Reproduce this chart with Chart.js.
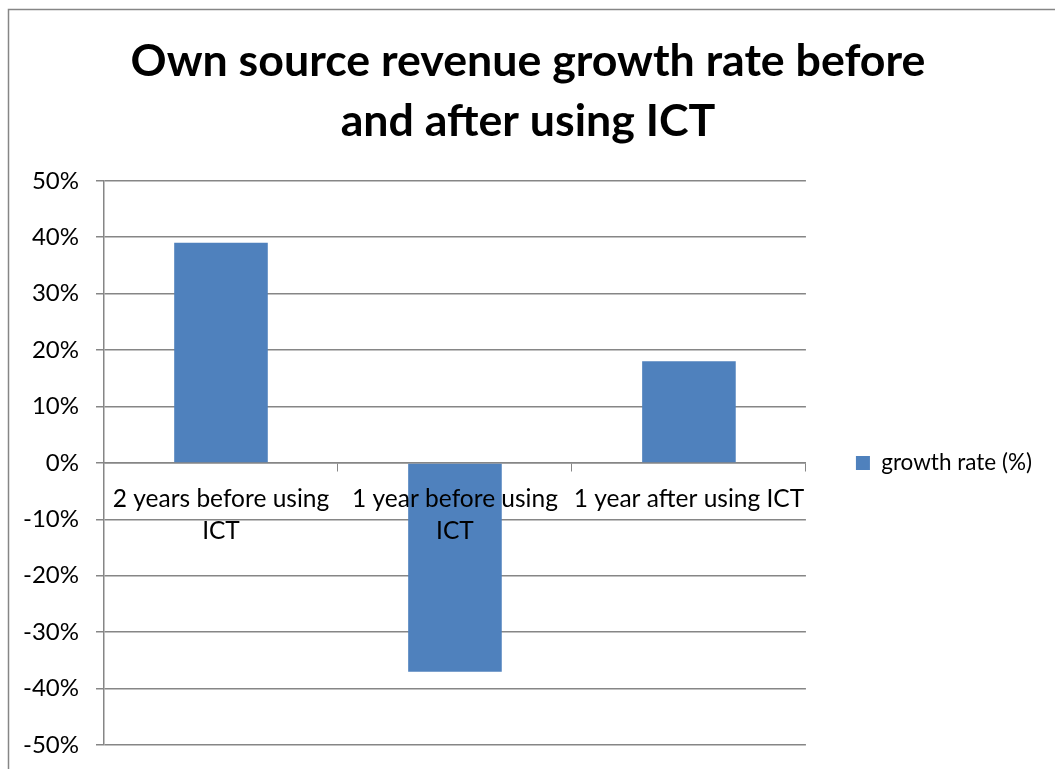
<!DOCTYPE html>
<html>
<head>
<meta charset="utf-8">
<script src="https://cdn.jsdelivr.net/npm/chart.js@4.4.0/dist/chart.umd.min.js"></script>
<style>
    html, body { margin: 0; padding: 0; background: #fff; }
    #wrap { position: relative; width: 1055px; height: 769px; }
</style>
</head>
<body>
<div id="wrap"><canvas id="growthChart" width="1055" height="769"></canvas></div>
<script>
// Category labels (wrapped like the axis shows them)
const categories = [
    ['2 years before using', 'ICT'],
    ['1 year before using', 'ICT'],
    '1 year after using ICT'
];
// Growth rate per period, in percent
const growthRate = [39, -37, 18];
const seriesName = 'growth rate (%)';

const yMin = -50;
const yMax = 50;
const yStep = 10;

const gridColor = '#868686';
const barColor = '#4F81BD';
const fontFamily = 'Lato, "Open Sans", sans-serif';

// Outer chart frame (only top and left edges fall inside the canvas)
const framePlugin = {
    id: 'frame',
    beforeDraw(chart) {
        const ctx = chart.ctx;
        ctx.save();
        ctx.strokeStyle = gridColor;
        ctx.lineWidth = 1.5;
        ctx.strokeRect(8.5, 9.5, 1100, 800);
        ctx.restore();
    }
};

Chart.defaults.font.family = fontFamily;
Chart.defaults.color = '#000';

new Chart(document.getElementById('growthChart'), {
    type: 'bar',
    data: {
        labels: categories,
        datasets: [{
            label: seriesName,
            data: growthRate,
            backgroundColor: barColor,
            borderWidth: 0,
            categoryPercentage: 1,
            barPercentage: 0.4
        }]
    },
    options: {
        responsive: false,
        animation: false,
        layout: {
            padding: { left: 14, right: 13, top: 0, bottom: 24 }
        },
        plugins: {
            title: {
                display: true,
                text: ['Own source revenue growth rate before', 'and after using ICT'],
                font: { size: 44.7, weight: 'bold', lineHeight: 1.34 },
                color: '#000',
                padding: { top: 32, bottom: 29 }
            },
            legend: {
                position: 'right',
                fullSize: false,
                labels: {
                    boxWidth: 14,
                    boxHeight: 14,
                    padding: 50,
                    font: { size: 22.5 },
                    color: '#000'
                }
            },
            tooltip: { enabled: false }
        },
        scales: {
            x: {
                position: { y: 0 },
                grid: {
                    display: true,
                    drawOnChartArea: false,
                    drawTicks: true,
                    tickLength: 8,
                    color: gridColor,
                    offset: true
                },
                border: { display: true, color: gridColor, width: 1.5 },
                ticks: {
                    z: 1,
                    maxRotation: 0,
                    autoSkip: false,
                    padding: 12,
                    font: { size: 24.5, lineHeight: 1.3 },
                    color: '#000'
                }
            },
            y: {
                min: yMin,
                max: yMax,
                grid: {
                    color: gridColor,
                    lineWidth: 1.5,
                    tickLength: 8
                },
                border: { display: true, color: gridColor, width: 1.5 },
                ticks: {
                    stepSize: yStep,
                    padding: 17,
                    font: { size: 24 },
                    color: '#000',
                    callback: function(value) {
                        return value + '%';
                    }
                },
                afterFit: function(scale) {
                    // fixed axis width; end labels may overhang the plot area
                    scale.width = 90;
                    scale.paddingTop = 0;
                    scale.paddingBottom = 0;
                }
            }
        }
    },
    plugins: [framePlugin]
});
</script>
</body>
</html>
